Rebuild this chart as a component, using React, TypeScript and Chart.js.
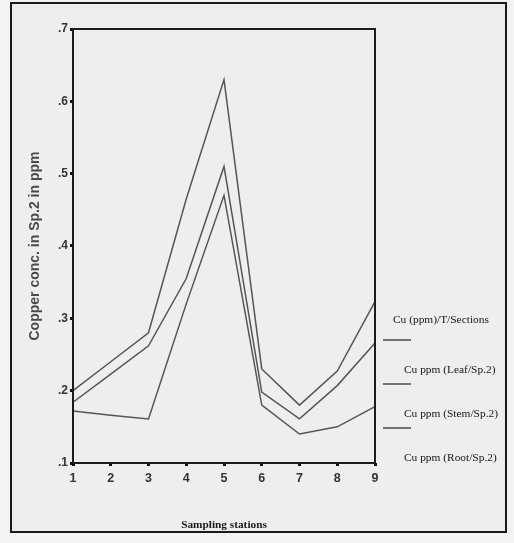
import { useEffect, useRef } from "react";
import { Chart, registerables } from "chart.js";

Chart.register(...registerables);

// Sampling stations along the x axis
const stations = ["1", "2", "3", "4", "5", "6", "7", "8", "9"];

// Copper concentration (ppm) in Sp.2, per plant section
const leafCu = [0.2, 0.24, 0.28, 0.465, 0.63, 0.23, 0.18, 0.227, 0.323];
const stemCu = [0.184, 0.223, 0.262, 0.355, 0.51, 0.198, 0.161, 0.207, 0.266];
const rootCu = [0.172, 0.166, 0.161, 0.32, 0.47, 0.18, 0.14, 0.15, 0.178];

const yTicks = [0.1, 0.2, 0.3, 0.4, 0.5, 0.6, 0.7];

const legendTitle = "Cu (ppm)/T/Sections";
const seriesNames = ["Cu ppm (Leaf/Sp.2)", "Cu ppm (Stem/Sp.2)", "Cu ppm (Root/Sp.2)"];
const lineColor = "#555555";

const CANVAS_W = 493;
const CANVAS_H = 527;

// Box around the plotting area (all four sides)
const plotFrame = {
  id: "plotFrame",
  afterDatasetsDraw(chart: any) {
    const { ctx, chartArea } = chart;
    ctx.save();
    ctx.strokeStyle = "#1c1c1c";
    ctx.lineWidth = 2;
    ctx.strokeRect(chartArea.left, chartArea.top, chartArea.right - chartArea.left, chartArea.bottom - chartArea.top);
    ctx.restore();
  },
};

// Legend on the right: a heading, then each series' line sample above its name
const sideLegend = {
  id: "sideLegend",
  afterDraw(chart: any) {
    const { ctx, chartArea } = chart;
    const x0 = chartArea.right + 8;
    ctx.save();
    ctx.font = '11.4px "Liberation Serif", "Times New Roman", serif';
    ctx.fillStyle = "#151515";
    ctx.textBaseline = "middle";
    ctx.textAlign = "left";
    ctx.fillText(legendTitle, x0 + 10, 316);
    const rowGap = 44;
    chart.data.datasets.forEach((ds: any, i: number) => {
      const lineY = 336 + i * rowGap;
      ctx.strokeStyle = ds.borderColor;
      ctx.lineWidth = 1.6;
      ctx.beginPath();
      ctx.moveTo(x0, lineY);
      ctx.lineTo(x0 + 28, lineY);
      ctx.stroke();
      ctx.fillText(ds.label, x0 + 21, 366 + i * rowGap);
    });
    ctx.restore();
  },
};

export default function App() {
  const canvasRef = useRef<HTMLCanvasElement | null>(null);

  useEffect(() => {
    if (!canvasRef.current) return;
    const series = [leafCu, stemCu, rootCu];
    const chart = new Chart(canvasRef.current, {
      type: "line",
      data: {
        labels: stations,
        datasets: series.map((values, i) => ({
          label: seriesNames[i],
          data: values,
          borderColor: lineColor,
          borderWidth: 1.5,
          pointRadius: 0,
          fill: false,
          tension: 0,
          yAxisID: "y",
        })),
      },
      options: {
        responsive: false,
        animation: false,
        devicePixelRatio: 1,
        layout: { padding: { top: 25, left: 0, right: 0, bottom: 0 } },
        plugins: {
          legend: { display: false },
          tooltip: { enabled: false },
        },
        scales: {
          x: {
            type: "category",
            offset: false,
            border: { display: false },
            grid: {
              display: true,
              drawOnChartArea: false,
              drawTicks: true,
              tickLength: 3,
              lineWidth: 3,
              color: "#111",
            },
            ticks: {
              padding: 5,
              color: "#333",
              font: { family: '"Liberation Sans", Arial, sans-serif', size: 12.5, weight: "bold" },
              maxRotation: 0,
            },
            title: {
              display: true,
              text: "Sampling stations",
              color: "#1a1a1a",
              padding: { top: 0, bottom: 0 },
              font: { family: '"Liberation Serif", "Times New Roman", serif', size: 11.3, weight: "bold", lineHeight: 1 },
            },
            afterFit(scale: any) {
              scale.height = 68;
            },
          },
          y: {
            type: "linear",
            position: "left",
            min: 0.1,
            max: 0.7,
            border: { display: false },
            grid: {
              display: true,
              drawOnChartArea: false,
              drawTicks: true,
              tickLength: 3,
              lineWidth: 3,
              color: "#111",
            },
            afterBuildTicks(scale: any) {
              scale.ticks = yTicks.map((v) => ({ value: v }));
            },
            ticks: {
              padding: 2,
              color: "#333",
              font: { family: '"Liberation Sans", Arial, sans-serif', size: 12, weight: "bold" },
              callback: (v: any) => "." + Math.round(Number(v) * 10),
            },
            title: {
              display: true,
              text: "Copper conc. in Sp.2 in ppm",
              color: "#4a4a4a",
              padding: { top: 16, bottom: 0 },
              font: { family: '"Liberation Sans", Arial, sans-serif', size: 14, weight: "bold", lineHeight: 1 },
            },
            afterFit(scale: any) {
              scale.width = 61;
            },
          },
          legendSpace: {
            type: "linear",
            position: "right",
            display: true,
            border: { display: false },
            grid: { display: false },
            ticks: { display: false },
            afterFit(scale: any) {
              scale.width = 130;
            },
          },
        },
      } as any,
      plugins: [plotFrame, sideLegend],
    });
    return () => chart.destroy();
  }, []);

  return (
    <div
      style={{
        position: "fixed",
        left: 0,
        top: 0,
        width: 514,
        height: 543,
        background: "#f3f3f3",
      }}
    >
      <div
        style={{
          position: "absolute",
          left: 10,
          top: 2,
          width: CANVAS_W + 4,
          height: CANVAS_H + 4,
          boxSizing: "border-box",
          border: "2px solid #1a1a1a",
          background: "#eeeeee",
        }}
      >
        <canvas
          ref={canvasRef}
          width={CANVAS_W}
          height={CANVAS_H}
          style={{ display: "block", width: CANVAS_W, height: CANVAS_H }}
        />
      </div>
    </div>
  );
}
